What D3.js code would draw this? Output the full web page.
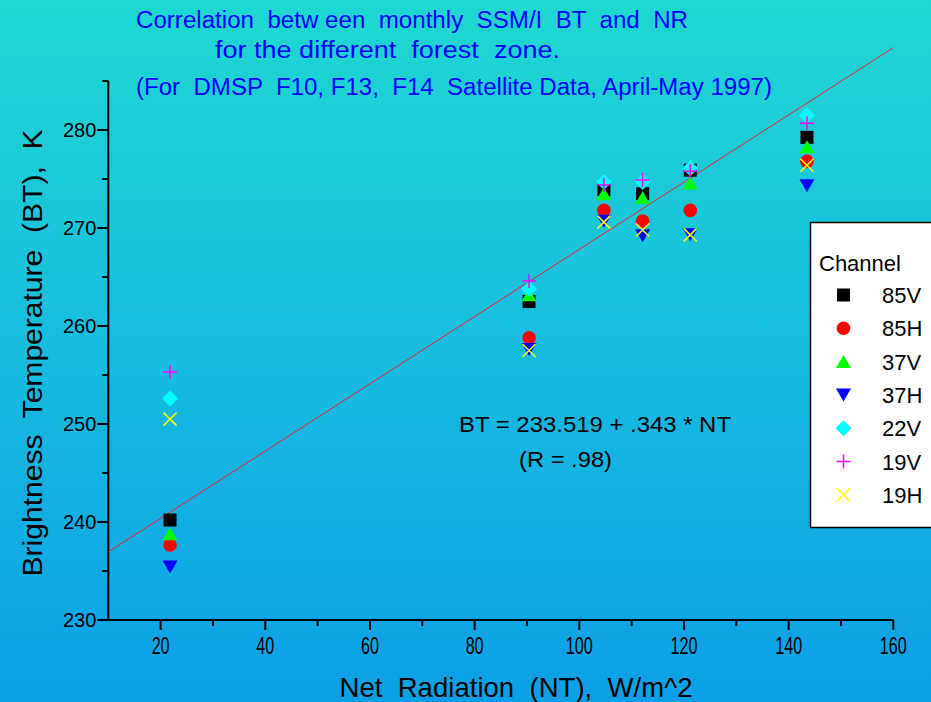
<!DOCTYPE html>
<html><head><meta charset="utf-8">
<script src="https://cdn.jsdelivr.net/npm/d3@7"></script>
<style>
html,body{margin:0;padding:0;overflow:hidden;}
text{font-family:"Liberation Sans",Arial,sans-serif;}
</style></head>
<body>
<svg id="c" width="931" height="702"></svg>
<script>
// ---- data ----
const netRadiation = [21.8, 90.4, 104.7, 112.1, 121.2, 143.5];
const channels = ["85V", "85H", "37V", "37H", "22V", "19V", "19H"];
const bt85V = [240.2, 262.5, 273.9, 273.5, 275.9, 279.25];
const bt85H = [237.65, 258.8, 271.8, 270.7, 271.8, 276.8];
const bt37V = [238.8, 263.2, 273.5, 273.1, 274.6, 278.3];
const bt37H = [235.4, 257.6, 270.7, 269.2, 269.3, 274.3];
const bt22V = [252.6, 263.8, 274.7, 274.7, 276.1, 281.5];
const bt19V = [255.3, 264.6, 274.4, 274.9, 275.8, 280.7];
const bt19H = [250.5, 257.5, 270.6, 269.8, 269.3, 276.4];
const fitIntercept = 233.519;
const fitSlope = 0.343;
const xTicks = [20, 40, 60, 80, 100, 120, 140, 160];
const yTicks = [230, 240, 250, 260, 270, 280];
const titleLines = ["Correlation  betw een  monthly  SSM/I  BT  and  NR",
                    "for the different  forest  zone.",
                    "(For  DMSP  F10, F13,  F14  Satellite Data, April-May 1997)"];

const series = [bt85V, bt85H, bt37V, bt37H, bt22V, bt19V, bt19H];
const colors = ["#000000", "#ff0000", "#00ff00", "#0000ff", "#00ffff", "#ff00ff", "#ffff00"];
const shapes = ["square", "circle", "up", "down", "diamond", "plus", "cross"];

const svg = d3.select("#c");
const W = 931, H = 702;
const defs = svg.append("defs");
const grad = defs.append("linearGradient").attr("id", "bg").attr("x1", 0).attr("y1", 0).attr("x2", 0).attr("y2", 1);
grad.append("stop").attr("offset", "0%").attr("stop-color", "#1fd7d0");
grad.append("stop").attr("offset", "50%").attr("stop-color", "#17bde0");
grad.append("stop").attr("offset", "100%").attr("stop-color", "#0c9fe6");
svg.append("rect").attr("width", W).attr("height", H).attr("fill", "url(#bg)");

const x = d3.scaleLinear().domain([10, 160]).range([108.3, 893.3]);
const y = d3.scaleLinear().domain([230, 285]).range([620, 81]);

// axes
const xAxis = svg.append("g").attr("transform", "translate(0,620)");
xAxis.append("line").attr("x1", x(10)).attr("x2", x(160)).attr("stroke", "#000").attr("stroke-width", 2);
xAxis.selectAll(".mt").data(d3.range(20, 161, 10)).join("line")
  .attr("x1", d => x(d)).attr("x2", d => x(d)).attr("y1", 0)
  .attr("y2", d => d % 20 === 0 ? 10 : 6).attr("stroke", "#000").attr("stroke-width", 2);
xAxis.selectAll(".tl").data(xTicks).join("text")
  .attr("x", d => x(d)).attr("y", 34).attr("text-anchor", "middle")
  .attr("font-size", 23).attr("textLength", d => String(d).length * 9).attr("lengthAdjust", "spacingAndGlyphs")
  .attr("fill", "#000").text(d => d);

const yAxis = svg.append("g").attr("transform", `translate(${x(10)},0)`);
yAxis.append("line").attr("y1", y(230)).attr("y2", y(285)).attr("stroke", "#000").attr("stroke-width", 2);
yAxis.selectAll(".mt").data(d3.range(230, 286, 5)).join("line")
  .attr("y1", d => y(d)).attr("y2", d => y(d)).attr("x1", 0)
  .attr("x2", d => d % 10 === 0 ? -11 : -6).attr("stroke", "#000").attr("stroke-width", 2);
yAxis.selectAll(".tl").data(yTicks).join("text")
  .attr("x", -12).attr("y", d => y(d) + 7).attr("text-anchor", "end")
  .attr("font-size", 20).attr("fill", "#000").text(d => d);

// fit line
svg.append("line")
  .attr("x1", x(10)).attr("y1", y(fitIntercept + fitSlope * 10))
  .attr("x2", x(160)).attr("y2", y(fitIntercept + fitSlope * 160))
  .attr("stroke", "#e8202a").attr("stroke-width", 1);

// marker drawing
function marker(g, shape, color, cx, cy) {
  const s = 6.5;
  if (shape === "square") g.append("rect").attr("x", cx - s).attr("y", cy - s).attr("width", 2 * s).attr("height", 2 * s).attr("fill", color);
  else if (shape === "circle") g.append("circle").attr("cx", cx).attr("cy", cy).attr("r", 6.8).attr("fill", color);
  else if (shape === "up") g.append("path").attr("d", `M${cx - 7.5},${cy + 6.5}L${cx + 7.5},${cy + 6.5}L${cx},${cy - 6.5}Z`).attr("fill", color);
  else if (shape === "down") g.append("path").attr("d", `M${cx - 7.5},${cy - 6.5}L${cx + 7.5},${cy - 6.5}L${cx},${cy + 6.5}Z`).attr("fill", color);
  else if (shape === "diamond") g.append("path").attr("d", `M${cx},${cy - 8}L${cx + 8},${cy}L${cx},${cy + 8}L${cx - 8},${cy}Z`).attr("fill", color);
  else if (shape === "plus") g.append("path").attr("d", `M${cx - 7},${cy}H${cx + 7}M${cx},${cy - 7}V${cy + 7}`).attr("stroke", color).attr("stroke-width", 1.5).attr("fill", "none");
  else if (shape === "cross") g.append("path").attr("d", `M${cx - 6.5},${cy - 6.5}L${cx + 6.5},${cy + 6.5}M${cx + 6.5},${cy - 6.5}L${cx - 6.5},${cy + 6.5}`).attr("stroke", color).attr("stroke-width", 1.5).attr("fill", "none");
}

const pts = svg.append("g");
series.forEach((vals, i) => {
  vals.forEach((v, j) => marker(pts, shapes[i], colors[i], x(netRadiation[j]), y(v)));
});

// title
const titleX = [136, 215, 136];
const titleY = [28, 58, 95];
const titleW = [552, 345, 636];
titleLines.forEach((t, i) => {
  svg.append("text").attr("x", titleX[i]).attr("y", titleY[i])
    .attr("font-size", 23).attr("fill", "#0000ff").style("white-space", "pre")
    .attr("textLength", titleW[i]).attr("lengthAdjust", "spacingAndGlyphs").text(t);
});

// axis titles
svg.append("text").attr("x", 516).attr("y", 697).attr("text-anchor", "middle")
  .attr("font-size", 28).attr("fill", "#000").attr("textLength", 353).attr("lengthAdjust", "spacingAndGlyphs")
  .style("white-space", "pre").text("Net  Radiation  (NT),  W/m^2");
svg.append("text").attr("transform", "translate(42,353) rotate(-90)").attr("text-anchor", "middle")
  .attr("font-size", 27).attr("fill", "#000").attr("textLength", 447).attr("lengthAdjust", "spacingAndGlyphs")
  .style("white-space", "pre").text("Brightness  Temperature  (BT),  K");

// equation
svg.append("text").attr("x", 459).attr("y", 432).attr("font-size", 22).attr("fill", "#000")
  .attr("textLength", 272).attr("lengthAdjust", "spacingAndGlyphs").text("BT = 233.519 + .343 * NT");
svg.append("text").attr("x", 519).attr("y", 467).attr("font-size", 22).attr("fill", "#000")
  .attr("textLength", 93).attr("lengthAdjust", "spacingAndGlyphs").text("(R = .98)");

// legend
const lg = svg.append("g");
lg.append("rect").attr("x", 810.5).attr("y", 222.5).attr("width", 140).attr("height", 305)
  .attr("fill", "#fff").attr("stroke", "#000").attr("stroke-width", 1.5);
lg.append("text").attr("x", 819).attr("y", 271).attr("font-size", 22).attr("fill", "#000").text("Channel");
channels.forEach((c, i) => {
  const cy = 295 + i * 33.3;
  marker(lg, shapes[i], colors[i], 843.5, cy);
  lg.append("text").attr("x", 882).attr("y", cy + 8).attr("font-size", 22).attr("fill", "#000").text(c);
});
</script>
</body></html>
